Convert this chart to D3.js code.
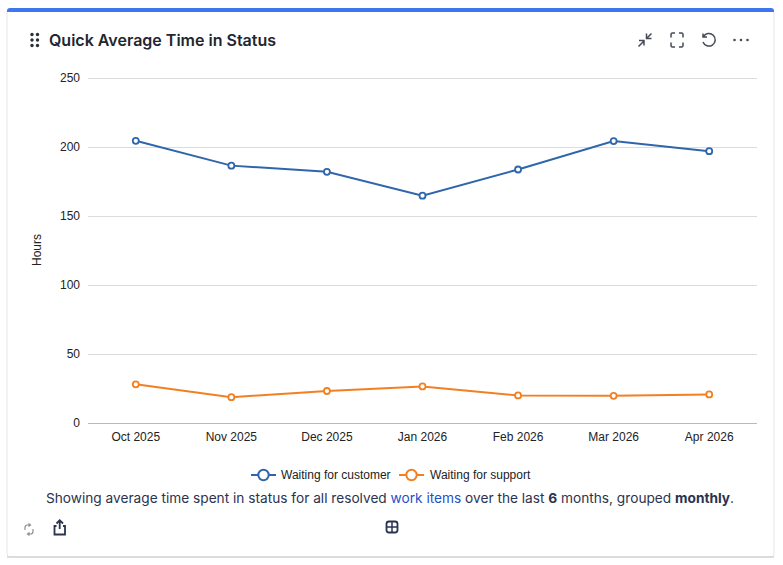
<!DOCTYPE html>
<html><head><meta charset="utf-8">
<script src="https://cdn.jsdelivr.net/npm/d3@7"></script>
<style>
html,body{margin:0;padding:0;background:#fff;overflow:hidden}
svg{display:block}
</style></head><body>
<svg id="c" width="783" height="565"></svg>
<script>
const months=["Oct 2025","Nov 2025","Dec 2025","Jan 2026","Feb 2026","Mar 2026","Apr 2026"];
const customer=[204.5,186.5,182,164.7,183.7,204.3,197];
const support=[28,18.7,23.2,26.5,20,19.7,20.7];
const yTicks=[0,50,100,150,200,250];
const seriesNames=["Waiting for customer","Waiting for support"];
const seriesColors=["#2f66ab","#f28022"];
const chartFont="'Liberation Sans',Arial,sans-serif", uiFont="Inter,sans-serif";

const svg=d3.select("#c");
// card
svg.append("rect").attr("x",7).attr("y",9).attr("width",767).attr("height",548).attr("rx",3).attr("fill","#fff").attr("stroke","#e4e5e8");
svg.append("line").attr("x1",7).attr("x2",774).attr("y1",557).attr("y2",557).attr("stroke","#c4c5c9");
svg.append("path").attr("d","M7 12V11a3 3 0 0 1 3-3H771a3 3 0 0 1 3 3V12Z").attr("fill","#3f75ee");

// title + grip
const grip=svg.append("g").attr("fill","#2b2f38");
[[32,34.5],[37.5,34.5],[32,40],[37.5,40],[32,45.5],[37.5,45.5]].forEach(p=>grip.append("circle").attr("cx",p[0]).attr("cy",p[1]).attr("r",1.7));
svg.append("text").attr("x",49).attr("y",46).attr("font-family",uiFont).attr("font-size",16).attr("font-weight",600).attr("fill","#22262e").text("Quick Average Time in Status");

// header icons
const ic=svg.append("g").attr("fill","none").attr("stroke","#454a54").attr("stroke-width",1.5);
ic.append("path").attr("d","M638.500 46.500L643.500 41.500M639 40.500H644V45.500M651.500 33.500L647 38M646.500 33.500V38.500H651.500");
ic.append("path").attr("d","M671 37.500V34.500a1.500 1.500 0 0 1 1.500-1.500H675M679 33H681.500a1.500 1.500 0 0 1 1.500 1.500V37.500M683 42.500V45.500a1.500 1.500 0 0 1-1.500 1.500H679M675 47H672.500a1.500 1.500 0 0 1-1.500-1.500V42.500");
ic.append("path").attr("d","M703.500 36.500A6.300 6.300 0 1 1 703 42M703 33.500V37H707");
const dots=svg.append("g").attr("fill","#454a54");
[734.500,741,747.500].forEach(x=>dots.append("circle").attr("cx",x).attr("cy",40).attr("r",1.300));

// scales
const x=d3.scaleBand().domain(months).range([88,757]);
const y=d3.scaleLinear().domain([0,250]).range([423,78]);
const cx=m=>x(m)+x.bandwidth()/2;

// grid
svg.append("g").selectAll("line").data(yTicks).join("line")
 .attr("x1",88).attr("x2",757).attr("y1",d=>y(d)+.5).attr("y2",d=>y(d)+.5)
 .attr("stroke",d=>d===0?"#b9b9b9":"#dcdcdc");

// axes
const ya=svg.append("g").attr("transform","translate(88,0)").call(d3.axisLeft(y).tickValues(yTicks).tickSize(0).tickPadding(8));
ya.select(".domain").remove();
const xa=svg.append("g").attr("transform","translate(0,423)").call(d3.axisBottom(x).tickSize(0).tickPadding(9));
xa.select(".domain").remove();
[ya,xa].forEach(a=>a.selectAll("text").attr("font-family",chartFont).attr("font-size",12).attr("fill","#222"));
svg.append("text").attr("transform","translate(41,250) rotate(-90)").attr("text-anchor","middle")
 .attr("font-family",chartFont).attr("font-size",12).attr("fill","#222").text("Hours");

// series
const line=d3.line().x((d,i)=>cx(months[i])).y(d=>y(d));
[customer,support].forEach((vals,k)=>{
  const g=svg.append("g");
  g.append("path").datum(vals).attr("d",line).attr("fill","none").attr("stroke",seriesColors[k]).attr("stroke-width",2);
  g.selectAll("circle").data(vals).join("circle")
   .attr("cx",(d,i)=>cx(months[i])).attr("cy",d=>y(d)).attr("r",3)
   .attr("fill","#fff").attr("stroke",seriesColors[k]).attr("stroke-width",1.8);
});

// legend
const legX=[251,399], textX=[281,430];
seriesNames.forEach((n,k)=>{
  const g=svg.append("g");
  g.append("line").attr("x1",legX[k]).attr("x2",legX[k]+25).attr("y1",475).attr("y2",475).attr("stroke",seriesColors[k]).attr("stroke-width",2);
  g.append("circle").attr("cx",legX[k]+12.500).attr("cy",475).attr("r",5.200).attr("fill","#fff").attr("stroke",seriesColors[k]).attr("stroke-width",2);
  g.append("text").attr("x",textX[k]).attr("y",479).attr("font-family",chartFont).attr("font-size",12).attr("fill","#222").text(n);
});

// caption
const cap=svg.append("text").attr("x",390).attr("y",503).attr("text-anchor","middle").attr("font-family",uiFont).attr("font-size",13.68).attr("fill","#2a3350");
cap.append("tspan").text("Showing average time spent in status for all resolved ");
cap.append("tspan").attr("fill","#1f4fc9").text("work items");
cap.append("tspan").text(" over the last ");
cap.append("tspan").attr("font-weight",700).text("6");
cap.append("tspan").text(" months, grouped ");
cap.append("tspan").attr("font-weight",700).text("monthly");
cap.append("tspan").text(".");

// footer icons
const f1=svg.append("g").attr("fill","none").attr("stroke","#8b8f99").attr("stroke-width",1.2);
f1.append("path").attr("d","M25 530V527.500a2.500 2.500 0 0 1 2.500-2.500H30M28.500 523.500L30.500 525L28.500 526.500");
f1.append("path").attr("d","M33 529V531.500a2.500 2.500 0 0 1-2.500 2.500H28M29.500 535.500L27.500 534L29.500 532.500");
const f2=svg.append("g").attr("fill","none").attr("stroke","#2a3350").attr("stroke-width",1.8);
f2.append("path").attr("d","M56.500 526H54.500V534.500H65V526H63M59.700 529V520.500M56.500 523.500L59.700 520.300L63 523.500");
svg.append("rect").attr("x",386.500).attr("y",521.500).attr("width",11).attr("height",11).attr("rx",2.500).attr("fill","none").attr("stroke","#2a3350").attr("stroke-width",1.800);
svg.append("path").attr("d","M392 522V532M387 527H397").attr("stroke","#2a3350").attr("stroke-width",1.500);
</script>
</body></html>
